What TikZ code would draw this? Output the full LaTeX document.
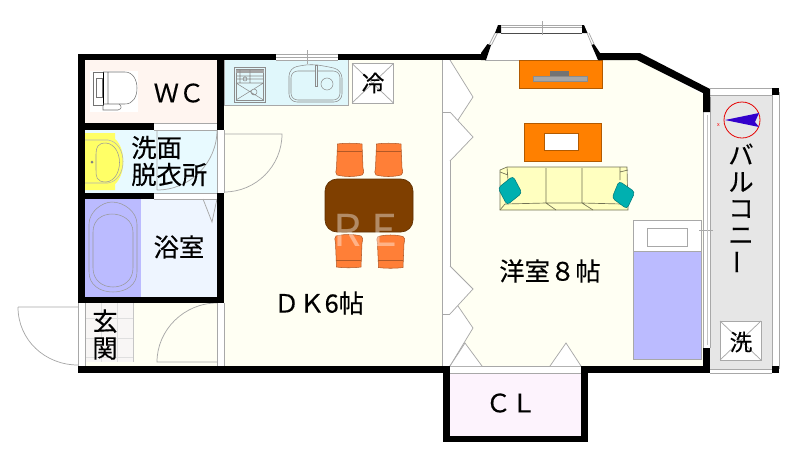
\documentclass[tikz,border=0pt]{standalone}
\usepackage{fontspec}
\setmainfont{Noto Sans CJK JP}
\definecolor{cream}{HTML}{FFFFF3}
\definecolor{wcpink}{HTML}{FFF5F0}
\definecolor{washblue}{HTML}{E8FAFF}
\definecolor{bathblue}{HTML}{EEF5FF}
\definecolor{tubblue}{HTML}{BBBBFF}
\definecolor{kitchen}{HTML}{E0F7FB}
\definecolor{tile}{HTML}{F8F6F5}
\definecolor{clpink}{HTML}{FDF3FD}
\definecolor{balc}{HTML}{E6E6E6}
\definecolor{gline}{HTML}{A8A8A8}
\definecolor{orangeA}{HTML}{FF8000}
\definecolor{chairc}{HTML}{FF7F37}
\definecolor{tablec}{HTML}{7F3F00}
\definecolor{sofac}{HTML}{FFFFC0}
\definecolor{teal2}{HTML}{00B0B0}
\definecolor{basin}{HTML}{FFFF66}
\newcommand{\jpfont}[1]{\addfontfeature{FakeBold=0.25}\fontsize{#1}{20.25}\selectfont\lineskiplimit=-20pt\relax}
\tikzset{
  wall/.style={fill=black,draw=none},
  thin line/.style={draw=gline,line width=.55pt},
  fix line/.style={draw=black!55,line width=.4pt},
  label text/.style={inner sep=0pt,text=black,font=\jpfont{19}},
  small text/.style={inner sep=0pt,text=black,font=\jpfont{17}},
  watermark/.style={font=\fontsize{33}{33}\selectfont,text=white,opacity=.4,inner sep=0pt},
  chairpic/.pic={
    \draw[fill=chairc,draw=chairc!70!black,line width=.4pt]
      (1.5,0) .. controls (8,-1) and (19,-1) .. (26,0) -- (27,24) .. controls (28,28) and (28,30) .. (26,31)
      .. controls (18,33) and (9,33) .. (1,31) .. controls (-1,30) and (0,27) .. (0.5,24) -- cycle;
    \draw[draw=chairc!70!black,line width=.4pt] (1.2,7) -- (26.4,7);
  }
}
\begin{document}
\begin{tikzpicture}[x=.75pt,y=-.75pt]
\useasboundingbox (0,0) rectangle (800,462);
% floors
\fill[cream] (224,60) rectangle (443,366);
\fill[cream] (85,303) rectangle (217,366);
\fill[cream] (450,60) -- (638,60) -- (703,95) -- (703,366) -- (450,366) -- cycle;
\fill[wcpink] (85,60) rectangle (217,123);
\fill[washblue] (85,130) rectangle (217,193);
\fill[bathblue] (141,199) rectangle (217,297);
\fill[tubblue] (85,199) rectangle (141,297);
\fill[tile] (85,303) rectangle (133,362);
\fill[clpink] (450,373) rectangle (581,436);
\fill[balc] (710,95) rectangle (772,369);
% tiles
\draw[gray!25,line width=.4pt] (101,303) -- (101,362) (117,303) -- (117,362) (85,318) -- (133,318) (85,338) -- (133,338) (85,357) -- (133,357);
\draw[gray!45,line width=.4pt] (133,303) -- (133,362);
% door strips and partitions
\draw[thin line] (154,123) -- (217,123) (154,130) -- (217,130) (154,193) -- (217,193) (154,199) -- (217,199);
\draw[thin line] (217,130) -- (217,193) (224,130) -- (224,193);
\draw[thin line] (217,303) -- (217,366) (224,303) -- (224,366);
\draw[thin line] (78,303) -- (78,366) (85,303) -- (85,366);
\draw[thin line] (442.5,60) -- (442.5,366) (450,60) -- (450,366) (442.5,112) -- (450,112) (442.5,314) -- (450,314);
\draw[thin line] (450,366) -- (581,366);
\draw[thin line] (450,373) -- (581,373);
\draw[thin line] (485,60) -- (599,60);
% doors
\draw[thin line] (157,130) -- (157,190) (217,130) .. controls (217,163) and (190,190) .. (157,190);
\draw[thin line] (224,134) -- (282,134) .. controls (282,166) and (256,192) .. (224,192);
\draw[thin line] (203,199) -- (212,222) -- (217,199);
\draw[thin line] (18,307) -- (78,307) (18,307) .. controls (18,340) and (45,365) .. (78,365);
\draw[thin line] (217,303) .. controls (184,303) and (157,330) .. (157,362) -- (217,362);
% wardrobe leaves
\fill[white] (450,60) -- (473,97) -- (458,120) -- (473,137) -- (450,161) -- cycle;
\draw[thin line] (450,60) -- (473,97) -- (458,120) (450,112) -- (473,137) -- (450,161);
\fill[white] (450,266) -- (473,289) -- (458,306) -- (473,328) -- (450,366) -- cycle;
\draw[thin line] (450,266) -- (473,289) -- (450,314) (458,306) -- (473,328) -- (450,366);
\draw[thin line,fill=white] (450,366) -- (465,343) -- (482,366);
\draw[thin line,fill=white] (550,366) -- (566,343) -- (581,366);
% kitchen
\draw[thin line,fill=kitchen] (224,60) -- (224,105.7) -- (348.7,105.7) -- (348.7,60);
\draw[fix line,draw=black!45] (234,67) rectangle (265.5,102) (236,69.5) rectangle (263.5,100);
\fill[black!35] (236,70) rectangle (263.5,73);
\draw[fix line,draw=black!45] (236,76) -- (263.5,76) (236,79) -- (263.5,79) (236,83) -- (263.5,83) (250,70) -- (250,83)
  (240,70) -- (240,83) (236,83) -- (263.5,100) (263.5,83) -- (236,100) (245,79) circle[radius=2] (254,92) circle[radius=3];
\draw[fix line,draw=black!45,rounded corners=6pt] (289,68) -- (310,64) -- (325,66) -- (342,70) -- (342,102) -- (289,102) -- cycle;
\draw[fix line,draw=black!45,rounded corners=5pt] (291,71) -- (340,71) -- (340,100) -- (291,100) -- cycle;
\draw[fix line,draw=black!45,fill=kitchen] (315,65) rectangle (317.5,86);
\draw[fix line,draw=black!45] (327,84) circle[radius=6];
% refrigerator
\draw[thin line,fill=white] (352,63.5) rectangle (393.5,103);
\draw[thin line] (352,63.5) -- (393.5,103) (393.5,63.5) -- (352,103);
% washer
\draw[thin line,fill=white] (720,321) rectangle (761,360);
\draw[thin line] (720,321) -- (761,360) (761,321) -- (720,360);
% toilet
\fill[white] (90,71) rectangle (138,112);
\draw[fix line] (93,72) rectangle (103,105) (96,78) rectangle (102,97);
\draw[black,line width=.6pt] (103,72) -- (103,105);
\draw[fix line] (103,72) -- (125,72) .. controls (133,72) and (137,80) .. (137,88) .. controls (137,97) and (133,104) .. (125,104) -- (103,104) (108,72) -- (108,104);
\draw[fix line] (103,105) -- (103,110) -- (118,110) .. controls (122,109) and (122,106) .. (119,104);
% wash basin
\fill[basin] (85,133) -- (115,133) -- (115,139) .. controls (126,148) and (126,175) .. (115,184) -- (115,190) -- (85,190) -- cycle;
\draw[draw=black!30,line width=.4pt] (85,183) -- (108,183) .. controls (128,180) and (128,143) .. (108,140) -- (85,140);
\draw[draw=black!40,line width=.4pt] (106,143) .. controls (124,145) and (124,180) .. (106,182) .. controls (96,182) and (96,176) .. (96,170) -- (96,154) .. controls (96,147) and (98,143) .. (106,143);
\fill[black!50] (92,162) circle[radius=1.5];
% bathtub
\draw[draw=black!40,line width=.4pt] (89,224) .. controls (89,212) and (102,202) .. (112,202) .. controls (124,202) and (137,212) .. (137,224) -- (137,272)
  .. controls (137,285) and (126,292) .. (113,292) .. controls (100,292) and (89,285) .. (89,272) -- cycle;
\draw[draw=black!40,line width=.4pt] (93,232) .. controls (93,220) and (102,214) .. (112,214) .. controls (122,214) and (133,220) .. (133,232) -- (133,268)
  .. controls (133,280) and (124,287) .. (113,287) .. controls (102,287) and (93,280) .. (93,268) -- cycle;
% dining
\path (336,144) pic {chairpic};
\path (375,144) pic {chairpic};
\path (335,267) pic[yscale=-1] {chairpic};
\path (377,267.5) pic[yscale=-1] {chairpic};
\draw[fill=tablec,draw=tablec!75!black,line width=.5pt,rounded corners=9pt] (325,179) rectangle (413,232);
\node[watermark] (wmR) at (347.5,230) {R};
\node[watermark] (wmE) at (384,230) {E};
% living furniture
\draw[fill=orangeA,draw=orangeA!70!black,line width=.4pt] (519,60) rectangle (602,88);
\fill[black!35] (533,76) rectangle (587,81);
\draw[black!45,line width=.3pt] (533,76) rectangle (587,81);
\fill[black!55] (550,71) rectangle (569,76);
\draw[fill=orangeA,draw=orangeA!70!black,line width=.4pt] (524,123) rectangle (601,161.5);
\draw[fill=white,draw=orangeA!70!black,line width=.3pt] (544,133.5) rectangle (578,150);
% sofa
\draw[fill=sofac,draw=black!55!sofac,line width=.5pt] (500,170) -- (507,167) -- (627,167) -- (628,210) -- (500,210) -- cycle;
\draw[draw=black!55!sofac,line width=.5pt] (546,168) -- (546,203) -- (556,210) (582,168) -- (582,203) -- (593,210)
  (507,167) -- (508,180) (500,172) -- (508,175) (620,167) -- (620,180) (620,172) -- (628,170)
  (505,204) -- (546,203) -- (582,203) -- (622,204) (500,210) -- (505,204);
\draw[fill=teal2,draw=teal2!70!black,line width=.4pt,rounded corners=2.5pt] (498,188) -- (513,176) -- (522,193) -- (507,205) -- cycle;
\draw[fill=teal2,draw=teal2!70!black,line width=.4pt,rounded corners=2.5pt] (612,198) -- (619,181) -- (635,192) -- (627,209) -- cycle;
% bed
\draw[thin line,fill=white] (633,220) rectangle (701,251);
\draw[thin line,fill=tubblue] (633,251) rectangle (701,359);
\draw[thin line] (647,228) rectangle (687,246);
% balcony window, rails
\draw[thin line] (703,112) -- (703,348) (710,97) -- (710,348) (699,230) -- (713,230);
\draw[gline!70,line width=.4pt] (707,115) -- (707,345);
\draw[thin line] (710,88) -- (772,88) (710,95) -- (772,95) (772,92) -- (772,369) (779,92) -- (779,369) (710,369) -- (772,369) (710,373) -- (772,373);
% compass
\draw[red!90!black,line width=.6pt] (742,120) circle[radius=18];
\fill[blue!60!violet] (725,120) -- (759,113) -- (755,122) -- (759,127) -- cycle;
\node[text=red,font=\fontsize{4}{4}\selectfont,inner sep=0pt] (compassx) at (718.5,125) {x};
% walls
\fill[wall] (78,54) rectangle (85,303);
\fill[wall] (78,54) rectangle (484,60);
\fill[white] (276,54) rectangle (338,60);
\draw[thin line] (276,54) -- (338,54) (276,57) -- (338,57) (276,60) -- (338,60) (307,50) -- (307,64);
\fill[wall] (217,54) rectangle (224,130);
\fill[wall] (85,123) rectangle (154,130);
\fill[wall] (85,193) rectangle (154,199);
\fill[wall] (217,193) rectangle (224,303);
\fill[wall] (78,297) rectangle (224,303);
\fill[wall] (78,366) rectangle (450,373);
\fill[wall] (581,366) rectangle (710,373);
\fill[wall] (703,348) rectangle (710,373);
\fill[wall] (443,366) rectangle (450,442);
\fill[wall] (581,366) rectangle (588,442);
\fill[wall] (443,436) rectangle (588,442);
\fill[wall] (772,88) rectangle (779,95);
\fill[wall] (772,366) rectangle (779,373);
\fill[wall] (599,53) -- (640,53) -- (710,89) -- (710,112) -- (703,112) -- (703,93) -- (637,60) -- (599,60) -- cycle;
% bay window
\fill[wall] (481,53) -- (487.5,44) -- (491,45) -- (486,60) -- (481,60) -- cycle;
\fill[wall] (598,60) -- (591.5,45) -- (594,44) -- (600,53) -- (600,60) -- cycle;
\fill[wall] (495,33) -- (498,25) -- (501,25) -- (501,33) -- (498,33) -- cycle;
\fill[wall] (587.5,33) -- (584,25) -- (582,25) -- (582,33) -- (585,33) -- cycle;
\draw[thin line] (489,45) -- (495,33) (491.5,45) -- (497.5,33) (592,45) -- (587,33) (594.5,45) -- (589,33);
\draw[thin line] (501,25) -- (582,25) (501,27) -- (582,27);
\draw[black!70,line width=.4pt] (501,33) -- (582,33);
\draw[thin line] (542,21) -- (542,35);
% labels
\node[label text] (wc) at (179,93) {ＷＣ};
\node[label text,align=left,anchor=west] (wash) at (131,161) {洗面\\脱衣所};
\node[label text] (bath) at (179,247) {浴室};
\node[label text,align=center] (genkan) at (105,334.5) {玄\\関};
\node[label text] (dk) at (319,303) {ＤＫ6帖};
\node[label text] (room) at (550,271) {洋室８帖};
\node[label text] (cl) at (511,403) {ＣＬ};
\node[small text] (fridge) at (373,83) {冷};
\node[small text] (washer) at (741,342) {洗};
\node[label text] (balcA) at (741,154) {バ};
\node[label text] (balcB) at (741,182) {ル};
\node[label text] (balcC) at (741,209) {コ};
\node[label text] (balcD) at (741,236) {ニ};
\node[label text,rotate=90] (balcE) at (741,262) {ー};
\end{tikzpicture}
\end{document}
